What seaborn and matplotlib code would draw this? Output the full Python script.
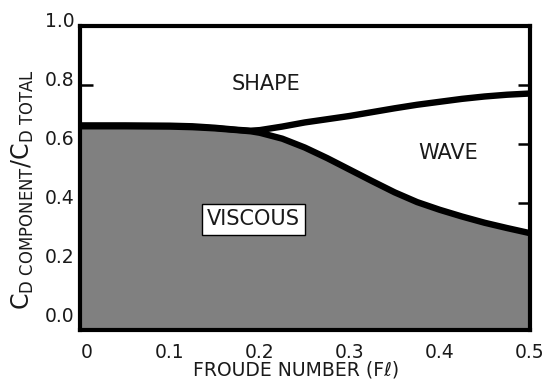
import matplotlib
matplotlib.use("Agg")
import matplotlib.pyplot as plt
import matplotlib.transforms as mtrans
import seaborn as sns
import pandas as pd

# ---- data ----
froude = [0.0, 0.05, 0.1, 0.125, 0.15, 0.175, 0.19, 0.2, 0.225, 0.25, 0.275,
          0.3, 0.325, 0.35, 0.375, 0.4, 0.425, 0.45, 0.475, 0.5]
viscous_plus_wave = [0.663, 0.663, 0.662, 0.660, 0.655, 0.648, 0.645, 0.647,
                     0.659, 0.673, 0.684, 0.695, 0.708, 0.721, 0.733, 0.743,
                     0.753, 0.761, 0.767, 0.771]
viscous = [0.660, 0.660, 0.659, 0.657, 0.653, 0.647, 0.643, 0.638, 0.618,
           0.588, 0.552, 0.513, 0.474, 0.436, 0.403, 0.377, 0.354, 0.333,
           0.315, 0.298]
xticks = [0.0, 0.1, 0.2, 0.3, 0.4, 0.5]
xtick_labels = ["0", "0.1", "0.2", "0.3", "0.4", "0.5"]
yticks = [0.0, 0.2, 0.4, 0.6, 0.8, 1.0]
ytick_labels = ["0.0", "0.2", "0.4", "0.6", "0.8", "1.0"]
region_labels = ["SHAPE", "WAVE", "VISCOUS"]
region_x = [0.207, 0.410, 0.193]
region_y = [0.803, 0.569, 0.344]

sns.set_style("ticks")
plt.rcParams['font.family'] = ['DejaVu Sans']
plt.rcParams['mathtext.fontset'] = 'dejavusans'
TXT = "#1a1a1a"

fig = plt.figure(figsize=(5.46, 3.92), dpi=100)
ax = fig.add_axes([0.1465, 0.1594, 0.8233, 0.7743])

ymin = -0.029
df = pd.DataFrame({"F": froude, "upper": viscous_plus_wave, "viscous": viscous})

ax.fill_between(df["F"], df["viscous"], ymin, color="#808080", lw=0, zorder=1)
sns.lineplot(data=df, x="F", y="upper", ax=ax, color="black", lw=4.6,
             solid_capstyle="butt", zorder=3)
sns.lineplot(data=df, x="F", y="viscous", ax=ax, color="black", lw=4.6,
             solid_capstyle="butt", zorder=3)

ax.set_xlim(0, 0.5)
ax.set_ylim(ymin, 1.0)
ax.set_xticks(xticks)
ax.set_xticklabels(xtick_labels)
ax.set_yticks(yticks)
ax.set_yticklabels(ytick_labels)

for sp in ax.spines.values():
    sp.set_linewidth(3.0)
    sp.set_color("black")
    sp.set_visible(True)
    sp.set_zorder(5)

ax.tick_params(axis="y", direction="in", length=9, width=1.8, right=True,
               labelsize=13.5, pad=4, colors="black", labelcolor=TXT)
ax.tick_params(axis="x", direction="in", length=6, width=1.8, top=False,
               labelsize=13.5, pad=9.5, colors="black", labelcolor=TXT)
# no tick mark at y = 0 and y = 1, nor at the x-axis ends
for i in (0, len(yticks) - 1):
    t = ax.yaxis.get_major_ticks()[i]
    t.tick1line.set_visible(False)
    t.tick2line.set_visible(False)
for i in (0, len(xticks) - 1):
    t = ax.xaxis.get_major_ticks()[i]
    t.tick1line.set_visible(False)

ax.set_xlabel("FROUDE NUMBER (F\u2113)", fontsize=13.5, color=TXT)
ax.set_ylabel(r"$\mathregular{C_{D\ COMPONENT}/C_{D\ TOTAL}}$", fontsize=17,
              color=TXT)
ax.xaxis.set_label_coords(0.4805, -0.135)
ax.xaxis.label.set_va("center")
ax.yaxis.set_label_coords(-0.128, 0.46)
ax.yaxis.label.set_va("center")

for name, xx, yy in zip(region_labels, region_x, region_y):
    kw = {}
    if name == "VISCOUS":
        kw["bbox"] = dict(boxstyle="square,pad=0.25", fc="white", ec="black", lw=1)
    ax.text(xx, yy, name, ha="center", va="center", fontsize=15, color=TXT,
            zorder=6, **kw)

# label offsets as in the reference
up = mtrans.ScaledTranslation(0, 6 / 100, fig.dpi_scale_trans)
for lab in ax.get_yticklabels():
    lab.set_transform(lab.get_transform() + up)
right = mtrans.ScaledTranslation(7 / 100, 0, fig.dpi_scale_trans)
first = ax.get_xticklabels()[0]
first.set_transform(first.get_transform() + right)

sns.despine(ax=ax, top=False, right=False)
fig.savefig("out.png", dpi=100)
